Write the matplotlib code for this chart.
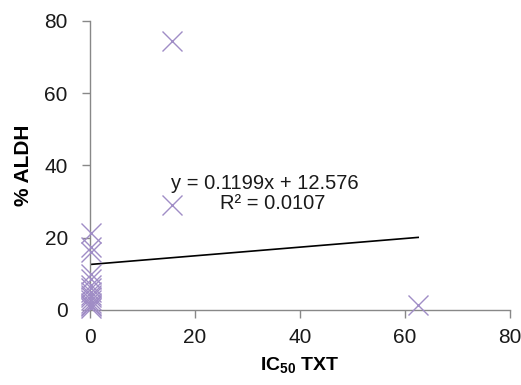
import numpy as np
import matplotlib
matplotlib.use("Agg")
import matplotlib.pyplot as plt

plt.rcParams['font.family'] = ['Liberation Sans', 'DejaVu Sans']
plt.rcParams['mathtext.fontset'] = 'custom'
plt.rcParams['mathtext.rm'] = 'Liberation Sans'
plt.rcParams['mathtext.bf'] = 'Liberation Sans:bold'

# values
ic50 = [0.1, 0.2, 0.15, 0.1, 0.2, 0.15, 0.1, 0.2, 0.15, 0.1, 0.2, 0.15, 0.1, 0.2, 0.15,
        15.6, 15.6, 62.5]
aldh = [21.3, 17.5, 16.0, 10.0, 8.5, 7.0, 6.0, 5.0, 4.2, 3.5, 2.8, 2.0, 1.5, 1.0, 0.5,
        74.5, 29.0, 1.4]

# trend line as printed on the chart
slope = 0.1199
intercept = 12.576
r2 = 0.0107

x_ticks = [0, 20, 40, 60, 80]
y_ticks = [0, 20, 40, 60, 80]

fig = plt.figure(figsize=(5.21, 3.85), dpi=100)
ax = fig.add_axes([0.1727, 0.195, 0.8063, 0.751])

ax.plot(ic50, aldh, linestyle='none', marker='x', markersize=14,
        markeredgewidth=1.0, color='#a08dc6', zorder=3, clip_on=False)

# linear trend line over the data range
xs = np.array([0, max(ic50)])
ax.plot(xs, slope * xs + intercept, color='black', linewidth=1.2, zorder=2)

ax.text(33.3, 35.1, f"y = {slope}x + {intercept}", fontsize=14.5,
        ha='center', va='center', color='#1a1a1a')
ax.text(34.8, 29.4, f"R\u00b2 = {r2}", fontsize=14.5,
        ha='center', va='center', color='#1a1a1a')

ax.set_xlim(0, 80)
ax.set_ylim(0, 80)
ax.set_xticks(x_ticks)
ax.set_yticks(y_ticks)
ax.tick_params(direction='out', length=6, width=1, color='#888888',
               labelsize=15, labelcolor='#1a1a1a')
ax.tick_params(axis='x', pad=7)
ax.tick_params(axis='y', pad=10)

for side in ['top', 'right']:
    ax.spines[side].set_visible(False)
for side in ['left', 'bottom']:
    ax.spines[side].set_color('#888888')
    ax.spines[side].set_linewidth(1)

ax.set_xlabel('IC$\\mathbf{_{50}}$ TXT', fontsize=14, fontweight='bold', labelpad=6)
ax.set_ylabel('% ALDH', fontsize=15, fontweight='bold', labelpad=8)

fig.savefig('out.png', dpi=100)
